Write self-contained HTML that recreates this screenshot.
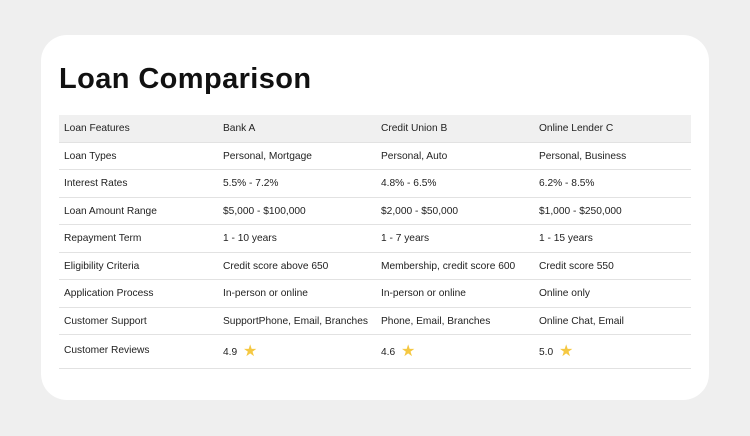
<!DOCTYPE html>
<html><head><style>
body{margin:0;width:750px;height:436px;background:#efefef;font-family:"Liberation Sans",sans-serif;position:relative;overflow:hidden}
.card{position:absolute;left:41px;top:35px;width:668px;height:365px;background:#fff;border-radius:26px}
h1{position:absolute;left:59px;top:63px;margin:0;font-size:29px;font-weight:bold;color:#111;letter-spacing:0.4px}
.row{position:absolute;left:59px;width:632px;border-bottom:1px solid #e2e2e2;font-size:10.2px;color:#222}
.row > span{position:absolute;white-space:nowrap}
.hdr{background:#f0f0f0}
.star{color:#f5c842;font-size:16px;margin-left:3px;vertical-align:-1px;line-height:10px}
</style></head><body>
<div class="card"></div>
<h1>Loan Comparison</h1>
<div id="t"></div>
<script>
var rows=[["Loan Features","Bank A","Credit Union B","Online Lender C"],
["Loan Types","Personal, Mortgage","Personal, Auto","Personal, Business"],
["Interest Rates","5.5% - 7.2%","4.8% - 6.5%","6.2% - 8.5%"],
["Loan Amount Range","$5,000 - $100,000","$2,000 - $50,000","$1,000 - $250,000"],
["Repayment Term","1 - 10 years","1 - 7 years","1 - 15 years"],
["Eligibility Criteria","Credit score above 650","Membership, credit score 600","Credit score 550"],
["Application Process","In-person or online","In-person or online","Online only"],
["Customer Support","SupportPhone, Email, Branches","Phone, Email, Branches","Online Chat, Email"],
["Customer Reviews","4.9 <span class='star'>★</span>","4.6 <span class='star'>★</span>","5.0 <span class='star'>★</span>"]];
var xs=[5,164,322,480],h="";
rows.forEach(function(r,i){
 var top=115+i*27.5, ht=(i==8?34:27.5)-1;
 h+='<div class="row'+(i==0?' hdr':'')+'" style="top:'+top+'px;height:'+ht+'px">';
 r.forEach(function(c,j){h+='<span style="left:'+xs[j]+'px;top:'+(i==8?(j==0?10:12):8)+'px">'+c+'</span>';});
 h+='</div>';
});
document.getElementById('t').innerHTML=h;
</script>
</body></html>
